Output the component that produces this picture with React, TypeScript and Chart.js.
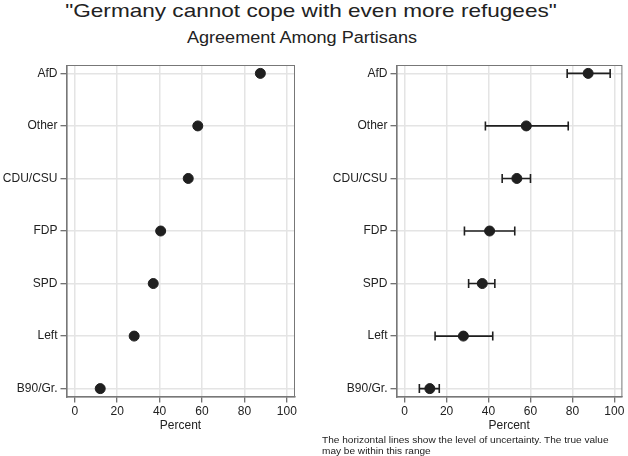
import React, { useEffect, useRef } from "react";
import { Chart, registerables } from "chart.js";

Chart.register(...registerables);

const parties = ["AfD", "Other", "CDU/CSU", "FDP", "SPD", "Left", "B90/Gr."];
const agree = [87.5, 58, 53.5, 40.5, 37, 28, 12];
const lower = [77.5, 38.5, 46.5, 28.5, 30.5, 14.5, 7];
const upper = [98, 78, 60, 52.5, 43, 42, 16.5];
const xTicks = [0, 20, 40, 60, 80, 100];

const FONT = "'Liberation Sans', Arial, sans-serif";
const INK = "#1f1f1f";

// grey box round the plot area
const framePlugin = {
  id: "frame",
  beforeDatasetsDraw(chart: any) {
    const { ctx, chartArea } = chart;
    ctx.save();
    ctx.strokeStyle = "#777";
    ctx.lineWidth = 1;
    ctx.strokeRect(chartArea.left, chartArea.top, chartArea.right - chartArea.left, chartArea.bottom - chartArea.top);
    ctx.restore();
  },
};

function DotPanel({ withBars }: { withBars: boolean }) {
  const canvasRef = useRef<HTMLCanvasElement>(null);

  useEffect(() => {
    const datasets: any[] = [
      {
        type: "scatter",
        data: agree.map((v, i) => ({ x: v, y: i })),
        backgroundColor: INK,
        borderColor: INK,
        borderWidth: 1,
        pointRadius: 5,
        pointHoverRadius: 5,
      },
    ];
    if (withBars) {
      parties.forEach((_, i) => {
        datasets.push({
          type: "line",
          data: [
            { x: lower[i], y: i },
            { x: upper[i], y: i },
          ],
          borderColor: INK,
          borderWidth: 1.6,
          pointStyle: "line",
          pointRotation: 90,
          pointRadius: 4.5,
          pointHoverRadius: 4.5,
          pointBorderWidth: 1.6,
          pointBorderColor: INK,
        });
      });
    }

    const tickFont = { family: FONT, size: 12 };
    const grid = { color: "#e4e4e4", lineWidth: 1.5, tickColor: "#444", tickLength: 6, tickWidth: 1 };
    const border = { display: true, color: "#555", width: 1.5 };

    const chart = new Chart(canvasRef.current!, {
      type: "scatter",
      data: { datasets },
      plugins: [framePlugin],
      options: {
        animation: false,
        responsive: true,
        maintainAspectRatio: false,
        layout: { padding: { top: 65.5, left: 0, right: withBars ? 3 : 15.5, bottom: 19.5 } },
        plugins: { legend: { display: false }, tooltip: { enabled: false } },
        scales: {
          x: {
            type: "linear",
            min: -3.9,
            max: 103.6,
            afterBuildTicks: (s: any) => {
              s.ticks = xTicks.map((v) => ({ value: v }));
            },
            afterFit: (s: any) => {
              s.height = 40;
            },
            grid,
            border,
            ticks: { color: "#222", font: tickFont, padding: 2, maxRotation: 0, autoSkip: false },
            title: { display: true, text: "Percent", color: "#222", font: tickFont, padding: { top: 4, bottom: 4 } },
          },
          y: {
            type: "linear",
            reverse: true,
            min: -0.15,
            max: 6.15,
            afterBuildTicks: (s: any) => {
              s.ticks = parties.map((_, i) => ({ value: i }));
            },
            afterFit: (s: any) => {
              s.width = 66.5;
            },
            grid,
            border,
            ticks: {
              color: "#222",
              font: tickFont,
              padding: 3,
              autoSkip: false,
              callback: (v: any) => parties[v],
            },
          },
        },
      } as any,
    });

    return () => chart.destroy();
  }, [withBars]);

  return <canvas ref={canvasRef} />;
}

function App() {
  useEffect(() => {
    document.body.style.margin = "0";
  }, []);

  const text: React.CSSProperties = {
    position: "absolute",
    left: 0,
    width: 628,
    textAlign: "center",
    fontFamily: FONT,
    color: "#222",
    whiteSpace: "nowrap",
    lineHeight: 1,
  };

  return (
    <div style={{ position: "relative", width: 628, height: 456, background: "#fff", overflow: "hidden" }}>
      <div style={{ ...text, top: 1.6, left: -3, fontSize: 18.5, transform: "scaleX(1.22)" }}>
        "Germany cannot cope with even more refugees"
      </div>
      <div style={{ ...text, top: 29.6, left: -12, fontSize: 16, transform: "scaleX(1.13)" }}>
        Agreement Among Partisans
      </div>
      <div style={{ position: "absolute", left: 0, top: 0, width: 310, height: 456 }}>
        <DotPanel withBars={false} />
      </div>
      <div style={{ position: "absolute", left: 330, top: 0, width: 298, height: 456 }}>
        <DotPanel withBars={true} />
      </div>
      <div
        style={{
          position: "absolute",
          left: 322,
          top: 435,
          fontFamily: FONT,
          fontSize: 9,
          lineHeight: "11px",
          color: "#222",
          transform: "scaleX(1.12)",
          transformOrigin: "left top",
        }}
      >
        The horizontal lines show the level of uncertainty. The true value
        <br />
        may be within this range
      </div>
    </div>
  );
}

export default App;
